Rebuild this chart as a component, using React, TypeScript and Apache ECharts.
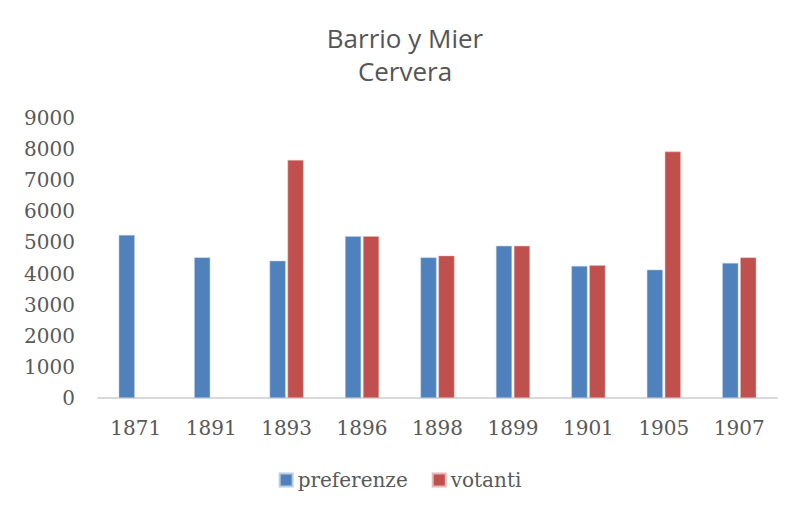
import React, { useEffect, useRef } from "react";
import * as echarts from "echarts";

const categories = ["1871", "1891", "1893", "1896", "1898", "1899", "1901", "1905", "1907"];
const preferenze = [5240, 4520, 4410, 5200, 4520, 4890, 4245, 4125, 4340];
const votanti: (number | null)[] = [null, null, 7650, 5200, 4575, 4890, 4265, 7920, 4520];
const yTicks = { min: 0, max: 9000, interval: 1000 };
const titleLines = ["Barrio y Mier", "Cervera"];

export default function App() {
  const ref = useRef<HTMLDivElement>(null);
  useEffect(() => {
    if (!ref.current) return;
    const chart = echarts.init(ref.current, null, { renderer: "svg" });
    const serif = "DejaVu Serif";
    const titleStyle = {
      fontFamily: "Open Sans",
      fontSize: 26,
      fontWeight: 500,
      color: "#555555",
      lineHeight: 26,
    };
    chart.setOption({
      animation: false,
      backgroundColor: "#ffffff",
      title: [
        { text: titleLines[0], left: 405, textAlign: "center", top: 25, padding: 0, textStyle: titleStyle },
        { text: titleLines[1], left: 405, textAlign: "center", top: 58, padding: 0, textStyle: titleStyle },
      ],
      graphic: {
        elements: [
          {
            type: "rect",
            left: 4,
            top: 3,
            z: 100,
            shape: { width: 2, height: 513 },
            style: { fill: "#d4d4d4" },
          },
          {
            type: "rect",
            left: 4,
            top: 3,
            z: 100,
            shape: { width: 796, height: 1 },
            style: { fill: "#d9d9d9" },
          },
        ],
      },
      legend: {
        bottom: 21,
        left: "center",
        icon: "rect",
        itemWidth: 13,
        itemHeight: 13,
        itemGap: 24,
        textStyle: { fontFamily: serif, fontSize: 20, color: "#595959" },
        data: ["preferenze", "votanti"],
      },
      grid: { left: 98, right: 23, top: 118, bottom: 118, containLabel: false },
      xAxis: {
        type: "category",
        data: categories,
        axisLine: { lineStyle: { color: "#d9d9d9", width: 2 } },
        axisTick: { show: false },
        axisLabel: { fontFamily: serif, fontSize: 20, color: "#595959", margin: 20 },
      },
      yAxis: {
        type: "value",
        min: yTicks.min,
        max: yTicks.max,
        interval: yTicks.interval,
        axisLine: { show: false },
        axisTick: { show: false },
        splitLine: { show: false },
        axisLabel: {
          fontFamily: serif,
          fontSize: 20,
          color: "#595959",
          margin: 23,
          formatter: (v: number) => String(v),
        },
      },
      series: [
        {
          name: "preferenze",
          type: "bar",
          data: preferenze,
          itemStyle: { color: "#4F81BD", borderColor: "#b9cde5", borderWidth: 0.5 },
          barGap: "12%",
          barCategoryGap: "55%",
        },
        {
          name: "votanti",
          type: "bar",
          data: votanti,
          itemStyle: { color: "#C0504D", borderColor: "#e6b9b8", borderWidth: 0.5 },
        },
      ],
    });
    return () => chart.dispose();
  }, []);
  return <div ref={ref} style={{ width: 800, height: 516, margin: -8 }} />;
}
